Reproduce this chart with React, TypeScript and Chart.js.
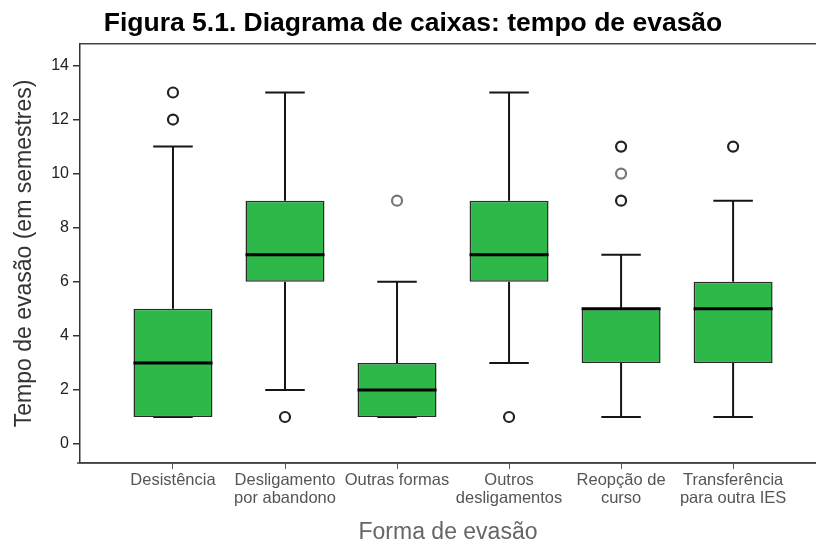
import React, { useEffect, useRef } from "react";
import { Chart, registerables } from "chart.js";

Chart.register(...registerables);

const titleText = "Figura 5.1. Diagrama de caixas: tempo de evasão";
const yTitle = "Tempo de evasão (em semestres)";
const xTitle = "Forma de evasão";

const categories = [
  "Desistência",
  "Desligamento\npor abandono",
  "Outras formas",
  "Outros\ndesligamentos",
  "Reopção de\ncurso",
  "Transferência\npara outra IES",
];
const whiskerLow = [1, 2, 1, 3, 1, 1];
const q1 = [1, 6, 1, 6, 3, 3];
const median = [3, 7, 2, 7, 5, 5];
const q3 = [5, 9, 3, 9, 5, 6];
const whiskerHigh = [11, 13, 6, 13, 7, 9];

const outlierCategory = [0, 0, 1, 2, 3, 4, 4, 4, 5];
const outlierValue = [12, 13, 1, 9, 1, 9, 10, 11, 11];
const outlierShade = ["#222", "#222", "#222", "#777", "#222", "#222", "#777", "#222", "#222"];

const yTicks = [0, 2, 4, 6, 8, 10, 12, 14];

const boxPlugin = {
  id: "boxExtras",
  beforeDatasetsDraw(chart: any) {
    const { ctx, scales } = chart;
    const x = scales.x;
    const y = scales.y;
    const meta = chart.getDatasetMeta(0);
    ctx.save();
    ctx.strokeStyle = "#151515";
    ctx.lineWidth = 2;
    categories.forEach((_, i) => {
      const px = x.getPixelForValue(i);
      const w = meta.data[i] ? meta.data[i].width : 80;
      const cap = w / 4;
      const yHi = y.getPixelForValue(whiskerHigh[i]);
      const yQ3 = y.getPixelForValue(q3[i]);
      const yLo = y.getPixelForValue(whiskerLow[i]);
      const yQ1 = y.getPixelForValue(q1[i]);
      ctx.beginPath();
      ctx.moveTo(px, yQ3);
      ctx.lineTo(px, yHi);
      ctx.moveTo(px - cap, yHi);
      ctx.lineTo(px + cap, yHi);
      ctx.moveTo(px, yQ1);
      ctx.lineTo(px, yLo);
      ctx.moveTo(px - cap, yLo);
      ctx.lineTo(px + cap, yLo);
      ctx.stroke();
    });
    ctx.restore();
  },
  afterDatasetsDraw(chart: any) {
    const { ctx, scales, chartArea } = chart;
    const x = scales.x;
    const y = scales.y;
    const meta = chart.getDatasetMeta(0);
    ctx.save();
    ctx.strokeStyle = "#000";
    ctx.lineWidth = 3;
    categories.forEach((_, i) => {
      const px = x.getPixelForValue(i);
      const w = meta.data[i] ? meta.data[i].width : 80;
      const pm = y.getPixelForValue(median[i]);
      ctx.beginPath();
      ctx.moveTo(px - w / 2, pm);
      ctx.lineTo(px + w / 2, pm);
      ctx.stroke();
    });
    ctx.strokeStyle = "#444";
    ctx.lineWidth = 1.5;
    ctx.beginPath();
    ctx.moveTo(chartArea.left, chartArea.top);
    ctx.lineTo(chart.width, chartArea.top);
    ctx.moveTo(chartArea.left - 3, chartArea.bottom);
    ctx.lineTo(chart.width, chartArea.bottom);
    ctx.stroke();
    ctx.restore();
  },
};

export default function App() {
  const ref = useRef<HTMLCanvasElement | null>(null);
  useEffect(() => {
    if (!ref.current) return;
    const chart = new Chart(ref.current, {
      type: "bar",
      data: {
        datasets: [
          {
            type: "bar",
            data: categories.map((_, i) => ({ x: i, y: [q1[i], q3[i]] })) as any,
            backgroundColor: "#2eb84a",
            borderColor: "#2a2a2a",
            borderWidth: 1.5,
            borderSkipped: false,
            barPercentage: 0.705,
            categoryPercentage: 1,
            order: 2,
          } as any,
          {
            type: "scatter",
            data: outlierValue.map((v, i) => ({ x: outlierCategory[i], y: v })),
            pointRadius: 5,
            pointBorderWidth: 2.2,
            pointBackgroundColor: "#fff",
            pointBorderColor: outlierShade,
            order: 1,
          } as any,
        ],
      },
      options: {
        responsive: false,
        animation: false,
        layout: { autoPadding: false, padding: { left: 10, right: 0, top: 0, bottom: 0 } },
        plugins: {
          legend: { display: false },
          tooltip: { enabled: false },
          title: {
            display: true,
            text: titleText,
            color: "#000",
            font: { family: "'Liberation Sans', Arial, sans-serif", size: 26.5, weight: "bold" },
            padding: { top: 8, bottom: 4 },
          },
        },
        scales: {
          x: {
            type: "linear",
            offset: false,
            min: -0.83,
            max: 5.74,
            afterBuildTicks: (axis: any) => {
              axis.ticks = categories.map((_, i) => ({ value: i }));
            },
            afterFit: (scale: any) => {
              scale.height = 83;
              scale.paddingRight = 0;
              scale.paddingLeft = 0;
            },
            grid: { display: true, offset: false, drawOnChartArea: false, tickLength: 6, color: "#555", lineWidth: 1 },
            border: { display: true, color: "#333", width: 1.5 },
            ticks: {
              autoSkip: false,
              maxRotation: 0,
              padding: 2,
              color: "#555",
              font: { family: "'Liberation Sans', Arial, sans-serif", size: 16.5, lineHeight: 1.12 },
              callback: (v: any) => {
                const idx = Math.round(Number(v));
                return categories[idx] ? categories[idx].split("\n") : "";
              },
            },
            title: {
              display: true,
              text: xTitle,
              color: "#666",
              font: { family: "'Liberation Sans', Arial, sans-serif", size: 23 },
              padding: { top: 4, bottom: 0 },
            },
          },
          y: {
            type: "linear",
            min: -0.7,
            max: 14.8,
            afterBuildTicks: (axis: any) => {
              axis.ticks = yTicks.map((v) => ({ value: v }));
            },
            afterFit: (scale: any) => {
              scale.width = 70;
            },
            grid: { display: true, drawOnChartArea: false, tickLength: 7, color: "#333", lineWidth: 1.5 },
            border: { display: true, color: "#333", width: 1.5 },
            ticks: {
              padding: 4,
              color: "#222",
              font: { family: "'Liberation Sans', Arial, sans-serif", size: 16 },
            },
            title: {
              display: true,
              text: yTitle,
              color: "#333",
              font: { family: "'Liberation Sans', Arial, sans-serif", size: 23 },
              padding: { top: 1, bottom: 0 },
            },
          },
        },
      },
      plugins: [boxPlugin],
    } as any);
    return () => chart.destroy();
  }, []);
  return (
    <div style={{ position: "absolute", left: 0, top: 0, width: 816, height: 546 }}>
      <canvas ref={ref} width={816} height={546} style={{ display: "block" }} />
    </div>
  );
}
